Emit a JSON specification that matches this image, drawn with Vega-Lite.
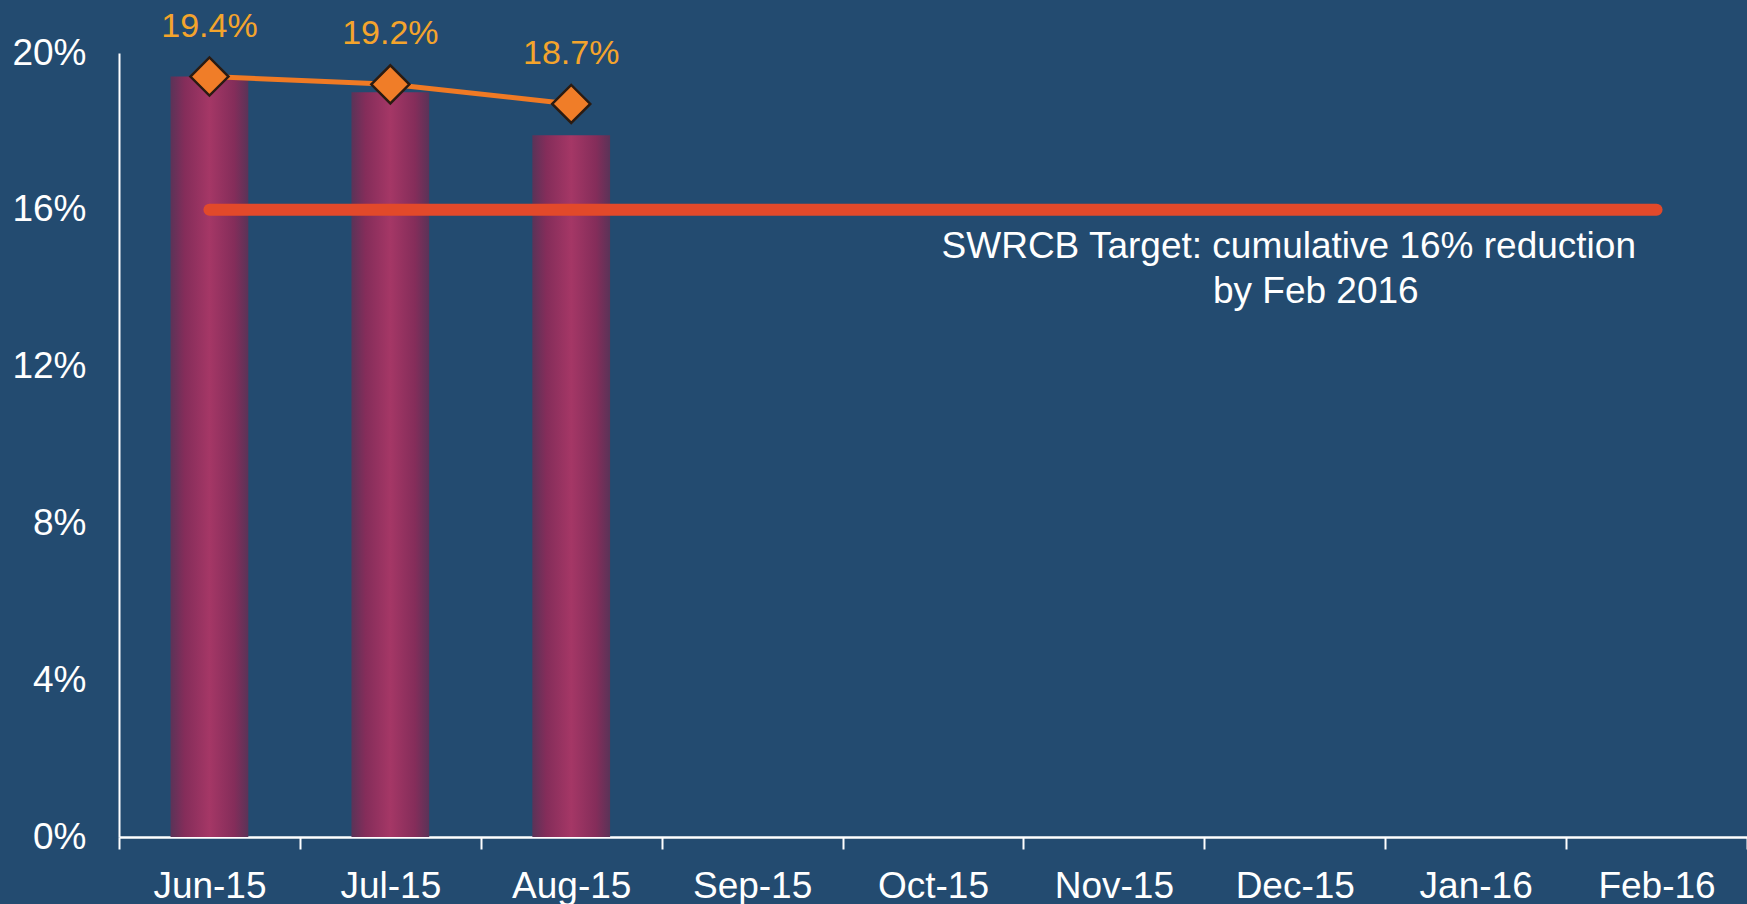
{
  "$schema": "https://vega.github.io/schema/vega-lite/v6.json",
  "autosize": {"type": "none"},
  "padding": {"left": 119, "top": 53, "right": 0, "bottom": 67},
  "width": 1628,
  "height": 784,
  "background": "#234b70",
  "config": {
    "view": {"stroke": null, "fill": null},
    "font": "Liberation Sans",
    "axis": {
      "grid": false,
      "domainColor": "#ffffff",
      "domainWidth": 2,
      "tickColor": "#ffffff",
      "tickWidth": 2,
      "labelColor": "#ffffff",
      "labelFont": "Liberation Sans",
      "labelFontSize": 37,
      "title": null
    }
  },
  "datasets": {
    "monthly": [
      {"month": "Jun-15", "reduction": 19.4},
      {"month": "Jul-15", "reduction": 19.0},
      {"month": "Aug-15", "reduction": 17.9}
    ],
    "cumulative": [
      {"month": "Jun-15", "cum": 19.4, "label": "19.4%"},
      {"month": "Jul-15", "cum": 19.2, "label": "19.2%"},
      {"month": "Aug-15", "cum": 18.7, "label": "18.7%"}
    ],
    "target": [
      {"month": "Jun-15", "target": 16},
      {"month": "Feb-16", "target": 16}
    ],
    "note1": [
      {"month": "Dec-15", "y": 15.05, "text": "SWRCB Target: cumulative 16% reduction"}
    ],
    "note2": [
      {"month": "Dec-15", "y": 13.9, "text": "by Feb 2016"}
    ]
  },
  "encoding": {
    "x": {
      "field": "month",
      "type": "nominal",
      "sort": null,
      "scale": {
        "domain": ["Jun-15", "Jul-15", "Aug-15", "Sep-15", "Oct-15", "Nov-15", "Dec-15", "Jan-16", "Feb-16"],
        "paddingInner": 0,
        "paddingOuter": 0
      },
      "axis": {
        "labelAngle": 0,
        "tickBand": "extent",
        "tickSize": 12,
        "labelPadding": 19,
        "domainWidth": 2.5
      }
    }
  },
  "layer": [
    {
      "data": {"name": "monthly"},
      "mark": {
        "type": "bar",
        "width": {"band": 0.43},
        "fill": {
          "gradient": "linear",
          "x1": 0, "y1": 0, "x2": 1, "y2": 0,
          "stops": [
            {"offset": 0, "color": "#5a3358"},
            {"offset": 0.18, "color": "#842d5a"},
            {"offset": 0.5, "color": "#a53766"},
            {"offset": 0.82, "color": "#842d5a"},
            {"offset": 1, "color": "#5a3358"}
          ]
        }
      },
      "encoding": {
        "y": {
          "field": "reduction",
          "type": "quantitative",
          "scale": {"domain": [0, 20], "nice": false},
          "axis": {
            "values": [0, 4, 8, 12, 16, 20],
            "labelExpr": "datum.value + '%'",
            "ticks": false,
            "labelPadding": 33
          }
        }
      }
    },
    {
      "data": {"name": "target"},
      "mark": {"type": "line", "color": "#e2492a", "strokeWidth": 12, "strokeCap": "round"},
      "encoding": {
        "y": {"field": "target", "type": "quantitative"}
      }
    },
    {
      "data": {"name": "cumulative"},
      "mark": {"type": "line", "color": "#f07a24", "strokeWidth": 5},
      "encoding": {
        "y": {"field": "cum", "type": "quantitative"}
      }
    },
    {
      "data": {"name": "cumulative"},
      "mark": {"type": "point", "shape": "diamond", "size": 1450, "filled": true, "fill": "#f07d28", "stroke": "#2a1b12", "strokeWidth": 2.5, "opacity": 1},
      "encoding": {
        "y": {"field": "cum", "type": "quantitative"}
      }
    },
    {
      "data": {"name": "cumulative"},
      "mark": {"type": "text", "color": "#f4a42c", "fontSize": 34, "dy": -50, "baseline": "middle", "align": "center"},
      "encoding": {
        "y": {"field": "cum", "type": "quantitative"},
        "text": {"field": "label"}
      }
    },
    {
      "data": {"name": "note1"},
      "mark": {"type": "text", "color": "#ffffff", "fontSize": 37, "dx": -6, "baseline": "middle", "align": "center"},
      "encoding": {
        "y": {"field": "y", "type": "quantitative"},
        "text": {"field": "text"}
      }
    },
    {
      "data": {"name": "note2"},
      "mark": {"type": "text", "color": "#ffffff", "fontSize": 37, "dx": 21, "baseline": "middle", "align": "center"},
      "encoding": {
        "y": {"field": "y", "type": "quantitative"},
        "text": {"field": "text"}
      }
    }
  ]
}
